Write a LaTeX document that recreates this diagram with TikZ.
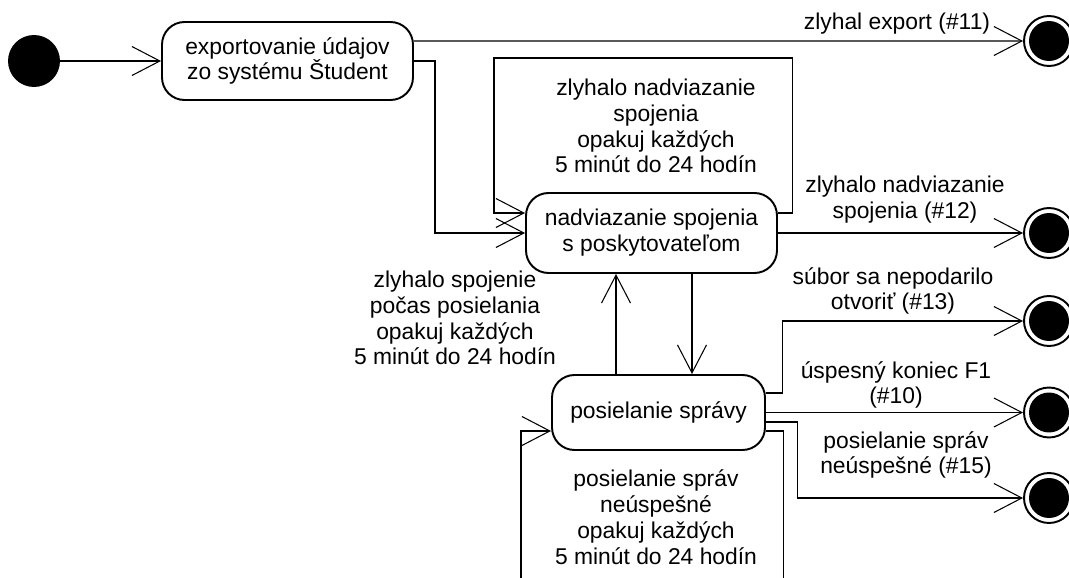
\documentclass[tikz,border=0pt]{standalone}
\usepackage{fontspec}
\setmainfont{Liberation Sans}
\usetikzlibrary{arrows.meta}

\tikzset{
  state/.style={draw, rounded corners=0.45cm, align=center, inner sep=0pt, line width=1.1pt},
  start/.style={circle, fill=black, inner sep=0pt, minimum size=1.04cm},
  stop/.style={circle, draw, line width=1.1pt, inner sep=0pt, minimum size=1.0cm,
    path picture={\fill (path picture bounding box.center) circle (0.4cm);}},
  trans/.style={-{Straight Barb[length=0.56cm,width=0.58cm]}, line width=0.6pt},
  lbl/.style={align=center, inner sep=0pt}
}

\begin{document}
\begin{tikzpicture}[x=0.02cm, y=-0.02cm, font=\fontsize{13}{14.7}\selectfont]
\useasboundingbox (0,0) rectangle (1069,578);
\clip (0,0) rectangle (1069,578);

\node[start] (init) at (34,61) {};
\node[state, minimum width=5.02cm, minimum height=1.56cm] (export) at (287.5,61) {exportovanie údajov\\zo systému Študent};
\node[state, minimum width=5.02cm, minimum height=1.6cm] (connect) at (651.5,233) {nadviazanie spojenia\\s poskytovateľom};
\node[state, minimum width=4.26cm, minimum height=1.5cm] (send) at (658.5,412.5) {posielanie správy};

\node[stop] (end11) at (1049,41) {};
\node[stop] (end12) at (1049,233) {};
\node[stop] (end13) at (1049,321) {};
\node[stop] (end10) at (1049,412.5) {};
\node[stop] (end15) at (1049,498) {};

\node[lbl] (l11) at (897,24) {zlyhal export (\#11)};
\node[lbl] (lretry1) at (656,126) {zlyhalo nadviazanie\\spojenia\\opakuj každých\\5 minút do 24 hodín};
\node[lbl] (l12) at (905,200) {zlyhalo nadviazanie\\spojenia (\#12)};
\node[lbl] (lretry2) at (455,318) {zlyhalo spojenie\\počas posielania\\opakuj každých\\5 minút do 24 hodín};
\node[lbl] (l13) at (893,291) {súbor sa nepodarilo\\otvoriť (\#13)};
\node[lbl] (l10) at (896,385) {úspesný koniec F1\\(\#10)};
\node[lbl] (l15) at (906,455) {posielanie správ\\neúspešné (\#15)};
\node[lbl] (lretry3) at (656,517) {posielanie správ\\neúspešné\\opakuj každých\\5 minút do 24 hodín};

\draw[trans] (init) -- (export);
\draw[trans] ([yshift=0.4cm]export.east) -- (end11.west);
\draw[trans] (export.east) -- (435,61) |- (connect.west);
\draw[trans] ([yshift=0.4cm]connect.east) -- ++(15,0) |- (494,58) |- ([yshift=0.4cm]connect.west);
\draw[trans] (connect.east) -- (end12.west);
\draw[trans] ([xshift=0.81cm]connect.south) -- ([xshift=0.81cm]connect.south |- send.north);
\draw[trans] ([xshift=-0.85cm]send.north) -- ([xshift=-0.85cm]send.north |- connect.south);
\draw[trans] ([yshift=0.39cm]send.east) -- ++(17,0) |- (end13.west);
\draw[trans] (send.east) -- (end10.west);
\draw[trans] ([yshift=-0.19cm]send.east) -- ++(32,0) |- (end15.west);
\draw[trans] ([yshift=-0.37cm]send.east) -- ++(18,0) |- (521,600) |- ([yshift=-0.37cm]send.west);
\end{tikzpicture}
\end{document}
